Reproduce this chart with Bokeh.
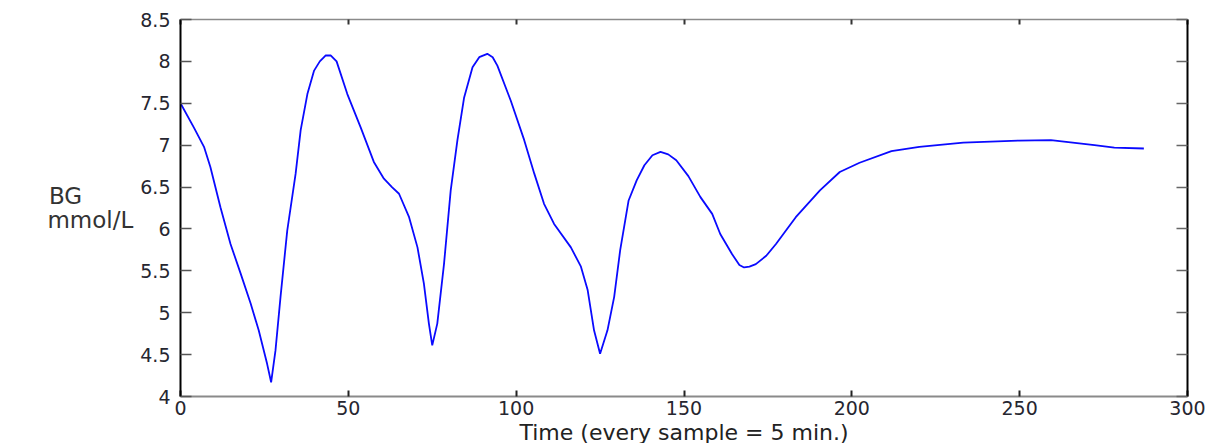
from bokeh.plotting import figure
from bokeh.models import Range1d, LinearAxis, FixedTicker, CustomJSTickFormatter
from bokeh.embed import file_html
from bokeh.resources import INLINE

# Sample index (every sample = 5 min) and blood glucose (mmol/L)
sample = [0, 4.0, 7.0, 8.9, 11.9, 14.9, 17.9, 20.9, 23.3, 25.8, 27.0, 28.3, 29.8, 31.8,
          34.3, 35.8, 37.8, 39.8, 41.5, 43.2, 44.8, 46.5, 49.7, 53.7, 57.6, 60.6, 63.0,
          65.1, 68.1, 70.6, 72.5, 74.0, 75.0, 76.5, 78.5, 80.5, 82.5, 84.5, 87.0, 89.0,
          91.4, 93.0, 94.4, 98.4, 102.4, 105.4, 108.3, 111.3, 116.3, 119.3, 121.3, 123.2,
          125.0, 127.2, 129.2, 131.0, 133.5, 135.9, 138.2, 140.6, 143.0, 145.3, 147.7,
          151.3, 154.9, 158.4, 160.8, 164.3, 166.5, 167.9, 169.5, 171.4, 174.5, 177.4,
          183.3, 190.5, 196.4, 202.3, 211.8, 220.1, 233.2, 249.8, 259.3, 272.3, 278.2, 287]
bg = [7.5, 7.21, 6.98, 6.74, 6.26, 5.82, 5.47, 5.11, 4.79, 4.39, 4.17, 4.55, 5.19, 5.98,
      6.66, 7.18, 7.61, 7.89, 8.00, 8.07, 8.07, 8.00, 7.61, 7.21, 6.80, 6.60, 6.50,
      6.42, 6.14, 5.78, 5.35, 4.87, 4.61, 4.87, 5.58, 6.46, 7.06, 7.57, 7.93, 8.05,
      8.09, 8.05, 7.95, 7.53, 7.06, 6.66, 6.30, 6.06, 5.78, 5.55, 5.27, 4.79,
      4.51, 4.79, 5.19, 5.75, 6.34, 6.58, 6.76, 6.88, 6.92, 6.89, 6.82,
      6.63, 6.38, 6.18, 5.94, 5.70, 5.57, 5.54, 5.55, 5.58, 5.68, 5.82,
      6.14, 6.46, 6.68, 6.79, 6.93, 6.98, 7.03, 7.055, 7.06, 7.0, 6.97, 6.96]

x_ticks = [0, 50, 100, 150, 200, 250, 300]
x_tick_labels = ["0", "50", "100", "150", "200", "250", "300"]
y_ticks = [4, 4.5, 5, 5.5, 6, 6.5, 7, 7.5, 8, 8.5]
y_tick_labels = ["4", "4.5", "5", "5.5", "6", "6.5", "7", "7.5", "8", "8.5"]

x_label = "Time (every sample = 5 min.)"
# first line padded with no-break spaces so that both lines start at the same left edge
y_label = "BG" + "\u00a0" * 7 + "\nmmol/L"

FONT = "DejaVu Sans"
LBL = "#262630"

fmt_code = "const i = tv.indexOf(tick); return i >= 0 ? tl[i] : '';"

p = figure(frame_width=1007, frame_height=377, output_backend="svg", toolbar_location=None,
           x_range=Range1d(0, 300), y_range=Range1d(4, 8.5),
           min_border_left=180, min_border_right=35, min_border_top=19, min_border_bottom=47)
p.grid.visible = False
p.outline_line_color = None
p.background_fill_color = "white"
p.border_fill_color = "white"

# left axis
ya = p.yaxis[0]
ya.ticker = FixedTicker(ticks=y_ticks)
ya.formatter = CustomJSTickFormatter(args=dict(tv=y_ticks, tl=y_tick_labels), code=fmt_code)
ya.axis_line_color = "black"
ya.axis_line_width = 2
ya.major_tick_in = 11
ya.major_tick_out = 0
ya.major_tick_line_color = "#555555"
ya.major_tick_line_width = 1.5
ya.minor_tick_line_color = None
ya.major_label_standoff = 10
ya.major_label_text_font = FONT
ya.major_label_text_font_size = "19px"
ya.major_label_text_color = LBL
ya.axis_label = y_label
ya.axis_label_orientation = "horizontal"
ya.axis_label_standoff = 4
ya.axis_label_text_font = FONT
ya.axis_label_text_font_size = "23px"
ya.axis_label_text_font_style = "normal"
ya.axis_label_text_color = "#333333"
ya.axis_label_text_line_height = 0.95

# bottom axis
xa = p.xaxis[0]
xa.ticker = FixedTicker(ticks=x_ticks)
xa.formatter = CustomJSTickFormatter(args=dict(tv=x_ticks, tl=x_tick_labels), code=fmt_code)
xa.axis_line_color = "#8a8a8a"
xa.axis_line_width = 2
xa.major_tick_in = 6
xa.major_tick_out = 0
xa.major_tick_line_color = "#222222"
xa.major_tick_line_width = 2
xa.minor_tick_line_color = None
xa.major_label_standoff = 4
xa.major_label_text_font = FONT
xa.major_label_text_font_size = "19px"
xa.major_label_text_color = LBL
xa.axis_label = x_label
xa.axis_label_standoff = 2
xa.axis_label_text_font = FONT
xa.axis_label_text_font_size = "22px"
xa.axis_label_text_font_style = "normal"
xa.axis_label_text_color = "#222222"

# right axis (box)
ra = LinearAxis(ticker=FixedTicker(ticks=y_ticks), formatter=CustomJSTickFormatter(code="return '';"))
ra.axis_line_color = "black"
ra.axis_line_width = 2
ra.major_tick_in = 11
ra.major_tick_out = 0
ra.major_tick_line_color = "#666666"
ra.major_tick_line_width = 1.5
ra.minor_tick_line_color = None
ra.major_label_standoff = 0
ra.major_label_text_font_size = "1px"
p.add_layout(ra, "right")

# top axis (box)
ta = LinearAxis(ticker=FixedTicker(ticks=x_ticks), formatter=CustomJSTickFormatter(code="return '';"))
ta.axis_line_color = "#8a8a8a"
ta.axis_line_width = 1.5
ta.major_tick_in = 5
ta.major_tick_out = 0
ta.major_tick_line_color = "#333333"
ta.major_tick_line_width = 2
ta.minor_tick_line_color = None
ta.major_label_standoff = 0
ta.major_label_text_font_size = "1px"
p.add_layout(ta, "above")

p.line(sample, bg, line_color="#0a0aff", line_width=1.8)

open("out.html", "w").write(file_html(p, INLINE))
